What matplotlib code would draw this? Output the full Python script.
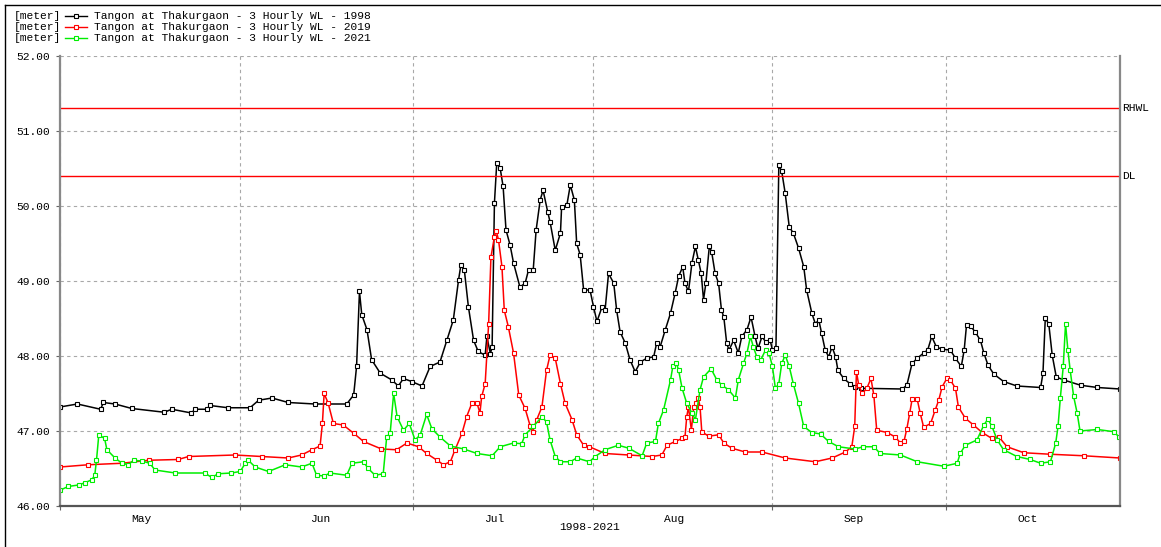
import numpy as np
import matplotlib
matplotlib.use('Agg')
import matplotlib.pyplot as plt
import matplotlib.dates as mdates
import pandas as pd
from matplotlib.lines import Line2D
from matplotlib.ticker import FormatStrFormatter, NullFormatter

plt.rcParams['font.family'] = ['Liberation Mono', 'DejaVu Sans Mono']
plt.rcParams['font.size'] = 8.1

start = pd.Timestamp('2021-05-01')
end = pd.Timestamp('2021-10-31')

# water levels [meter], day offset from 1 May
days_1998 = [0, 3, 7, 7.5, 9.5, 12.4, 18, 19.3, 22.7, 23.3, 25.3, 25.9, 29, 32.8, 34.3, 36.6, 39.4, 44, 49.5, 50.7,
             51.2, 51.7, 52.1, 53, 53.8, 55.3, 57.3, 58.4, 59.3, 60.7, 62.5, 63.9, 65.6, 66.8, 67.9, 68.8, 69.2, 69.8,
             70.5, 71.4, 72.2, 73.4, 73.7, 74.3, 74.6, 75, 75.4, 76, 76.5, 77, 77.7, 78.3, 79.4, 80.3, 80.9, 81.7,
             82.2, 82.9, 83.4, 84.2, 84.6, 85.5, 86.4, 86.6, 87.5, 88.1, 88.8, 89.2, 89.8, 90.4, 91.5, 92.1, 92.7,
             93.6, 94.1, 94.7, 95.6, 96.1, 96.7, 97.6, 98.4, 99.3, 100.2, 101.3, 102.5, 103, 103.6, 104.5, 105.4,
             106.2, 106.8, 107.5, 107.9, 108.5, 109.1, 109.7, 110.2, 110.7, 111.1, 111.5, 112.1, 112.5, 113.1, 113.7,
             114.2, 114.6, 115.1, 115.5, 116.3, 117.1, 117.7, 118.6, 119.3, 120, 120.5, 121.2, 121.8, 122.6, 123,
             123.6, 124.1, 124.6, 125.2, 125.9, 126.6, 127.5, 128.4, 128.9, 129.8, 130.4, 131, 131.5, 132.1, 132.7,
             133.3, 133.9, 134.3, 135.3, 136.4, 137.2, 138.2, 145.4, 146.2, 147.1, 148, 149.1, 149.8, 150.5, 151.3,
             152.3, 153.7, 154.6, 155.6, 156.1, 156.5, 157.2, 158, 158.9, 159.5, 160.2, 161.2, 162.9, 165.2, 169.3,
             169.7, 170.1, 170.7, 171.3, 172, 173.3, 176.2, 179.1, 183]
wl_1998 = [47.32, 47.36, 47.29, 47.38, 47.36, 47.30, 47.25, 47.29, 47.24, 47.29, 47.29, 47.34, 47.31, 47.31, 47.41,
           47.44, 47.38, 47.36, 47.36, 47.48, 47.86, 48.86, 48.55, 48.35, 47.95, 47.77, 47.68, 47.60, 47.70, 47.66,
           47.60, 47.86, 47.92, 48.21, 48.48, 49.01, 49.21, 49.15, 48.66, 48.21, 48.06, 48.01, 48.26, 48.03, 48.12,
           50.04, 50.57, 50.50, 50.26, 49.68, 49.48, 49.24, 48.92, 48.97, 49.15, 49.15, 49.68, 50.08, 50.21, 49.92,
           49.79, 49.41, 49.64, 49.99, 50.01, 50.28, 50.08, 49.50, 49.35, 48.88, 48.88, 48.66, 48.46, 48.66, 48.61,
           49.10, 48.97, 48.61, 48.32, 48.17, 47.95, 47.79, 47.92, 47.97, 47.99, 48.17, 48.12, 48.35, 48.57, 48.84,
           49.06, 49.19, 48.97, 48.86, 49.24, 49.46, 49.28, 49.10, 48.75, 48.97, 49.46, 49.39, 49.10, 48.97, 48.61,
           48.52, 48.17, 48.08, 48.21, 48.04, 48.26, 48.35, 48.52, 48.26, 48.10, 48.26, 48.19, 48.21, 48.08, 48.10,
           50.55, 50.46, 50.17, 49.72, 49.64, 49.44, 49.19, 48.88, 48.57, 48.43, 48.48, 48.30, 48.08, 47.99, 48.12,
           47.99, 47.81, 47.70, 47.63, 47.59, 47.57, 47.56, 47.61, 47.90, 47.97, 48.04, 48.08, 48.26, 48.12, 48.09,
           48.08, 47.97, 47.86, 48.08, 48.41, 48.40, 48.32, 48.21, 48.04, 47.88, 47.76, 47.66, 47.60, 47.58, 47.77,
           48.50, 48.43, 48.01, 47.72, 47.68, 47.61, 47.58, 47.56]

days_2019 = [0, 4.9, 10.7, 15.3, 20.4, 22.2, 30.2, 34.8, 39.4, 41.7, 43.5, 44.9, 45.3, 45.6, 46.3, 47.2, 48.9, 50.7,
             52.4, 55.5, 58.1, 59.9, 61.9, 63.3, 65.1, 66.2, 67.4, 68.2, 69.4, 70.2, 71.1, 72, 72.5, 72.8, 73.4, 74,
             74.4, 75, 75.3, 75.7, 76.3, 76.7, 77.4, 78.3, 79.2, 80.3, 81.2, 81.6, 82.3, 83.2, 84, 84.6, 85.5, 86.4,
             87.2, 88.4, 89.2, 90.4, 91.4, 94.1, 98.2, 102.2, 103.9, 104.8, 106.2, 107.4, 107.9, 108.2, 108.5, 109,
             109.4, 109.8, 110.2, 110.5, 110.8, 112, 113.7, 114.6, 116, 118.3, 121.2, 125.2, 130.4, 133.3, 135.6,
             136.7, 137.2, 137.5, 137.9, 138.5, 139.3, 140, 140.5, 141, 142.8, 144.2, 145.1, 145.7, 146.2, 146.7,
             147.1, 148, 148.5, 149.1, 150.3, 151.1, 151.7, 152.3, 153.1, 153.7, 154.6, 155.1, 156.3, 157.7, 159.2,
             160.9, 162.1, 163.5, 166.4, 171, 176.7, 183]
wl_2019 = [46.52, 46.55, 46.57, 46.61, 46.62, 46.66, 46.68, 46.66, 46.64, 46.68, 46.75, 46.80, 47.10, 47.50, 47.37,
           47.10, 47.08, 46.97, 46.86, 46.76, 46.75, 46.84, 46.79, 46.70, 46.61, 46.55, 46.59, 46.75, 46.97, 47.19,
           47.37, 47.37, 47.24, 47.46, 47.63, 48.43, 49.32, 49.59, 49.67, 49.55, 49.19, 48.61, 48.39, 48.04, 47.48,
           47.30, 47.06, 46.99, 47.15, 47.32, 47.81, 48.01, 47.97, 47.63, 47.37, 47.15, 46.95, 46.81, 46.79, 46.70,
           46.68, 46.66, 46.68, 46.81, 46.86, 46.90, 46.92, 47.19, 47.32, 47.01, 47.32, 47.37, 47.44, 47.32, 46.99,
           46.93, 46.95, 46.84, 46.77, 46.72, 46.72, 46.64, 46.59, 46.64, 46.72, 46.79, 47.06, 47.79, 47.61, 47.50,
           47.57, 47.70, 47.48, 47.01, 46.98, 46.92, 46.84, 46.86, 47.03, 47.24, 47.42, 47.42, 47.24, 47.05, 47.10,
           47.28, 47.41, 47.59, 47.70, 47.68, 47.57, 47.32, 47.17, 47.08, 46.98, 46.90, 46.92, 46.79, 46.71, 46.69,
           46.67, 46.64]

days_2021 = [0, 1.4, 3.2, 4.3, 5.5, 6, 6.3, 6.7, 7.7, 8.1, 9.5, 10.7, 11.8, 12.7, 14.1, 15.5, 16.4, 19.9, 25, 26.2,
             27.3, 29.6, 31.1, 32, 32.5, 33.7, 36, 38.9, 41.7, 43.5, 44.3, 45.6, 46.6, 49.5, 50.4, 52.4, 53.2, 54.4,
             55.8, 56.4, 57, 57.6, 58.2, 59.3, 60.3, 61.3, 62.2, 63.3, 64.2, 65.6, 67.4, 69.7, 72, 74.6, 76, 78.3,
             79.7, 80.3, 81.7, 83.2, 84, 84.6, 85.5, 86.4, 88.1, 89.2, 91.4, 92.4, 94.1, 96.4, 98.2, 100.5, 101.3,
             102.8, 103.3, 104.2, 105.4, 105.8, 106.4, 106.8, 107.4, 108.2, 109.1, 109.7, 110.5, 111.1, 112.4, 113.4,
             114.3, 115.4, 116.6, 117.1, 118, 118.6, 119.2, 119.7, 120.3, 121, 121.8, 122.4, 123, 123.5, 124.1, 124.6,
             125.2, 125.9, 126.6, 127.5, 128.4, 129.8, 131.3, 132.7, 134.4, 137.2, 138.7, 140.5, 141.6, 145.1, 148,
             152.6, 154.9, 155.4, 156.3, 158.3, 159.5, 160.2, 160.9, 161.8, 162.9, 165.2, 167.5, 169.3, 171, 171.9,
             172.3, 172.7, 173.2, 173.6, 174, 174.4, 175, 175.6, 176.1, 179.1, 182, 182.8]
wl_2021 = [46.21, 46.26, 46.28, 46.31, 46.35, 46.41, 46.61, 46.95, 46.90, 46.75, 46.64, 46.57, 46.55, 46.61, 46.60,
           46.57, 46.48, 46.44, 46.44, 46.38, 46.43, 46.44, 46.46, 46.57, 46.61, 46.52, 46.46, 46.55, 46.52, 46.57,
           46.41, 46.40, 46.44, 46.41, 46.57, 46.59, 46.50, 46.41, 46.43, 46.92, 46.97, 47.50, 47.19, 47.01, 47.10,
           46.88, 46.95, 47.22, 47.03, 46.92, 46.80, 46.76, 46.70, 46.67, 46.79, 46.84, 46.83, 46.95, 47.06, 47.19,
           47.12, 46.88, 46.66, 46.59, 46.59, 46.64, 46.59, 46.66, 46.75, 46.81, 46.77, 46.67, 46.84, 46.86, 47.10,
           47.28, 47.68, 47.86, 47.91, 47.81, 47.57, 47.37, 47.24, 47.15, 47.55, 47.72, 47.83, 47.68, 47.61, 47.55,
           47.44, 47.68, 47.90, 48.04, 48.26, 48.12, 47.99, 47.95, 48.08, 48.04, 47.86, 47.57, 47.63, 47.90, 48.01,
           47.86, 47.63, 47.37, 47.06, 46.98, 46.96, 46.86, 46.79, 46.76, 46.79, 46.79, 46.70, 46.68, 46.59, 46.53,
           46.57, 46.70, 46.81, 46.88, 47.08, 47.16, 47.06, 46.88, 46.75, 46.66, 46.62, 46.57, 46.59, 46.84, 47.06,
           47.44, 47.86, 48.43, 48.08, 47.81, 47.46, 47.24, 47.00, 47.02, 46.99, 46.92]

series = [('1998', days_1998, wl_1998, '#000000'),
          ('2019', days_2019, wl_2019, '#ff0000'),
          ('2021', days_2021, wl_2021, '#00ee00')]

rhwl = 51.31
dl = 50.40

fig = plt.figure(figsize=(11.61, 5.47), dpi=100)
ax = fig.add_axes([60 / 1161, 1 - 506 / 547, 1060 / 1161, 450 / 547])

for name, d, v, c in series:
    t = start + pd.to_timedelta(d, unit='D')
    ax.plot(t, v, color=c, lw=1.1, marker='s', ms=2.2, mfc='white', mec=c, mew=0.8)

ax.axhline(rhwl, color='#ff0000', lw=1)
ax.axhline(dl, color='#ff0000', lw=1)
ax.text(1.002, rhwl, 'RHWL', transform=ax.get_yaxis_transform(), va='center', ha='left')
ax.text(1.002, dl, 'DL', transform=ax.get_yaxis_transform(), va='center', ha='left')

ax.set_xlim(start, end)
ax.set_ylim(46, 52)
ax.set_yticks(np.arange(46, 52.01, 1))
ax.yaxis.set_major_formatter(FormatStrFormatter('%.2f'))

ax.xaxis.set_major_locator(mdates.MonthLocator())
ax.xaxis.set_major_formatter(NullFormatter())
ax.xaxis.set_minor_locator(mdates.MonthLocator(bymonthday=15))
ax.xaxis.set_minor_formatter(mdates.DateFormatter('%b'))
ax.tick_params(axis='x', which='major', length=3, color='#666666')
ax.tick_params(axis='x', which='minor', length=0, pad=6)
ax.tick_params(axis='y', length=3, color='#666666', pad=4)

ax.grid(True, which='major', color='#a8a8a8', ls=(0, (3, 3)), lw=0.8)
ax.set_axisbelow(True)

for s in ['left', 'right']:
    ax.spines[s].set_color('#888888')
    ax.spines[s].set_linewidth(1.6)
ax.spines['bottom'].set_color('#555555')
ax.spines['bottom'].set_linewidth(1.6)
ax.spines['top'].set_visible(False)

ax.set_xlabel('1998-2021', labelpad=-2)

# legend block, top-left
for i, (name, d, v, c) in enumerate(series):
    y = 1 - (16 + i * 10.8) / 547
    fig.text(14 / 1161, y, '[meter]', va='center', ha='left')
    fig.add_artist(Line2D([65 / 1161, 87 / 1161], [y, y], transform=fig.transFigure, color=c, lw=1))
    fig.add_artist(Line2D([76 / 1161], [y], transform=fig.transFigure, color=c, marker='s', ms=2.2,
                          mfc='white', mec=c, mew=0.8))
    fig.text(94 / 1161, y, 'Tangon at Thakurgaon - 3 Hourly WL - ' + name, va='center', ha='left')

# window frame
fig.add_artist(Line2D([5 / 1161, 5 / 1161], [0, 1 - 5 / 547], transform=fig.transFigure, color='black', lw=1))
fig.add_artist(Line2D([5 / 1161, 1], [1 - 5 / 547, 1 - 5 / 547], transform=fig.transFigure, color='black', lw=1))

fig.savefig('out.png', dpi=100)
plt.close(fig)
